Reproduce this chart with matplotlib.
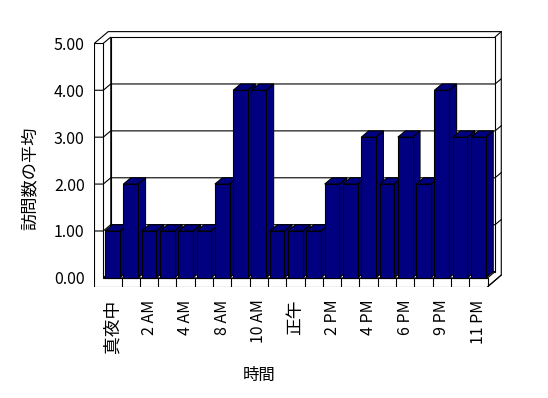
import numpy as np
import matplotlib.pyplot as plt
from matplotlib.patches import Polygon

plt.rcParams['font.family'] = ['Noto Sans CJK JP', 'DejaVu Sans']

hours = ['真夜中', '1 AM', '2 AM', '3 AM', '4 AM', '7 AM', '8 AM', '9 AM',
         '10 AM', '11 AM', '正午', '1 PM', '2 PM', '3 PM', '4 PM', '5 PM',
         '6 PM', '7 PM', '9 PM', '10 PM', '11 PM']
visits = [1, 2, 1, 1, 1, 1, 2, 4, 4, 1, 1, 1, 2, 2, 3, 2, 3, 2, 4, 3, 3]
yticks = [0, 1, 2, 3, 4, 5]
ylabels = ['0.00', '1.00', '2.00', '3.00', '4.00', '5.00']

navy = '#000080'
lw = 0.8
# 3D look: depth offset and wall/floor thickness (data units)
DX, DY = 0.41, 0.134
TX, TY = 0.49, 0.19

n = len(hours)
x = np.arange(n)
w = 0.8
x0, x1 = -0.5, n - 0.5
ytop = yticks[-1]

fig = plt.figure(figsize=(5.48, 3.98), dpi=100)
ax = fig.add_axes([0.1721, 0.2794, 0.7443, 0.6435])
ax.set_xlim(x0 - TX, x1 + DX + 0.39)
ax.set_ylim(-TY, ytop + 0.27)


def poly(pts, z=1, fc='white'):
    ax.add_patch(Polygon(pts, closed=True, facecolor=fc, edgecolor='black',
                         linewidth=lw, zorder=z))


# outer box (walls and floor slabs)
rx = x1 + DX + 0.34
poly([(x0 - TX, -TY), (x1, -TY), (rx, 0.06), (rx, ytop + 0.25),
      (x0 + 0.27, ytop + 0.25), (x0 - TX, ytop)])
# back wall face
poly([(x0 + DX, DY), (x1 + DX, DY), (x1 + DX, ytop + DY), (x0 + DX, ytop + DY)])
# left wall inner face
poly([(x0, 0), (x0 + DX, DY), (x0 + DX, ytop + DY), (x0, ytop)])
# floor top
poly([(x0, 0), (x1, 0), (x1 + DX, DY), (x0 + DX, DY)])
# floor front face and left wall front face
poly([(x0 - TX, -TY), (x1, -TY), (x1, 0), (x0, 0), (x0, ytop), (x0 - TX, ytop)])
ax.plot([x1, rx], [-TY, 0.06], color='black', lw=lw, zorder=1)
ax.plot([x1 + DX, rx], [ytop + DY, ytop + 0.25], color='black', lw=lw, zorder=1)
for xb in x[1:] - 0.5:
    ax.plot([xb, xb], [-TY, 0], color='black', lw=lw, zorder=1)

# gridlines
for k in yticks[1:-1]:
    ax.plot([x0 - TX, x0, x0 + DX, x1 + DX, rx],
            [k, k, k + DY, k + DY, k + DY + 0.11],
            color='black', lw=lw, zorder=1)

# bars
for i, v in zip(x, visits):
    z = 3 + i
    r = i + w / 2
    poly([(r, 0), (r + DX, DY), (r + DX, v + DY), (r, v)], z, navy)
    poly([(i - w / 2, v), (r, v), (r + DX, v + DY), (i - w / 2 + DX, v + DY)], z, navy)
    ax.bar(i, v, width=w, color=navy, edgecolor='black', linewidth=lw, zorder=z + 0.5)

ax.set_yticks(yticks, ylabels, fontsize=11.5)
ax.set_xticks(x[::2], hours[::2], rotation=90, fontsize=11.5)
for t in ax.get_xticklabels():
    if not t.get_text().isascii():
        t.set_fontsize(12.8)
ax.tick_params(length=0)
ax.tick_params(axis='y', pad=7)
ax.tick_params(axis='x', pad=9)
for s in ax.spines.values():
    s.set_visible(False)

fig.text(30 / 548, 1 - 178 / 398, '訪問数の平均', rotation=90,
         ha='center', va='center', fontsize=12.4)
fig.text(259 / 548, 1 - 375 / 398, '時間', ha='center', va='center', fontsize=11.8)

fig.savefig('out.png', dpi=100)
